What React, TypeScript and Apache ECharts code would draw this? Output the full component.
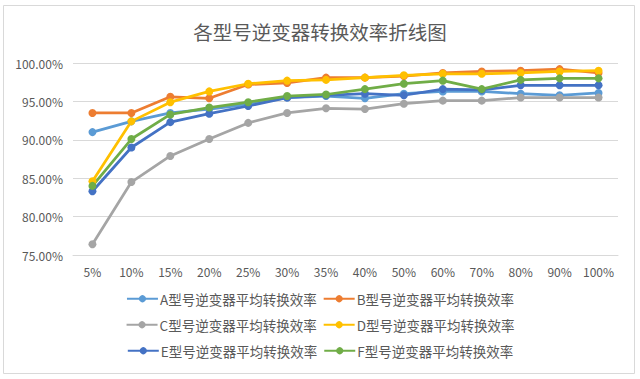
import React, { useEffect, useRef } from "react";
import * as echarts from "echarts";

const categories = ["5%", "10%", "15%", "20%", "25%", "30%", "35%", "40%", "50%", "60%", "70%", "80%", "90%", "100%"];
const seriesNames = [
  "A型号逆变器平均转换效率",
  "B型号逆变器平均转换效率",
  "C型号逆变器平均转换效率",
  "D型号逆变器平均转换效率",
  "E型号逆变器平均转换效率",
  "F型号逆变器平均转换效率",
];
const valuesA = [91.0, 92.4, 93.5, 94.0, 94.6, 95.5, 95.7, 95.4, 96.0, 96.3, 96.3, 96.0, 95.8, 96.1];
const valuesB = [93.5, 93.5, 95.6, 95.4, 97.2, 97.4, 98.1, 98.1, 98.3, 98.7, 98.9, 99.0, 99.2, 98.7];
const valuesC = [76.4, 84.5, 87.9, 90.1, 92.2, 93.5, 94.1, 94.0, 94.7, 95.1, 95.1, 95.5, 95.5, 95.5];
const valuesD = [84.6, 92.4, 94.9, 96.3, 97.3, 97.7, 97.8, 98.1, 98.4, 98.6, 98.6, 98.7, 98.9, 99.0];
const valuesE = [83.3, 89.0, 92.3, 93.4, 94.4, 95.5, 95.8, 96.0, 95.8, 96.6, 96.5, 97.1, 97.1, 97.1];
const valuesF = [84.0, 90.1, 93.3, 94.2, 94.9, 95.7, 95.9, 96.6, 97.3, 97.7, 96.6, 97.8, 98.0, 98.0];
const colors = ["#5B9BD5", "#ED7D31", "#A5A5A5", "#FFC000", "#4472C4", "#70AD47"];
const yMin = 75;
const yMax = 100;
const yInterval = 5;

const FONT = "'Noto Sans CJK SC', 'Noto Sans', sans-serif";
const TEXT_COLOR = "#595959";

export default function App() {
  const ref = useRef<HTMLDivElement>(null);
  useEffect(() => {
    if (!ref.current) return;
    const chart = echarts.init(ref.current, null, { renderer: "svg" });
    const allValues = [valuesA, valuesB, valuesC, valuesD, valuesE, valuesF];
    const legendRows = [0, 1, 2].map((r) => ({
      data: [seriesNames[r * 2], seriesNames[r * 2 + 1]],
      top: 292 + r * 26,
      left: "center",
      padding: 0,
      itemGap: 6,
      itemWidth: 31,
      itemHeight: 9,
      textStyle: { color: TEXT_COLOR, fontSize: 13.5, fontFamily: FONT, padding: [0, 0, 0, -3] },
    }));
    chart.setOption({
      animation: false,
      backgroundColor: "#ffffff",
      color: colors,
      title: {
        text: "各型号逆变器转换效率折线图",
        left: "center",
        top: 17,
        textStyle: { color: TEXT_COLOR, fontSize: 19.5, fontWeight: "normal", fontFamily: FONT },
      },
      graphic: [
        {
          type: "rect",
          shape: { x: 3.5, y: 5.5, width: 631, height: 368 },
          style: { fill: "none", stroke: "#D9D9D9", lineWidth: 1 },
          silent: true,
        },
      ],
      legend: legendRows,
      grid: { left: 73, right: 22, top: 63, bottom: 124, containLabel: false },
      xAxis: {
        type: "category",
        data: categories,
        boundaryGap: true,
        axisLine: { show: true, lineStyle: { color: "#D9D9D9" } },
        axisTick: { show: false },
        axisLabel: { color: TEXT_COLOR, fontSize: 12, fontFamily: FONT, margin: 10, interval: 0 },
      },
      yAxis: {
        type: "value",
        min: yMin,
        max: yMax,
        interval: yInterval,
        axisLine: { show: false },
        axisTick: { show: false },
        splitLine: { lineStyle: { color: "#D9D9D9", width: 1 } },
        axisLabel: {
          color: TEXT_COLOR,
          fontSize: 12,
          fontFamily: FONT,
          margin: 10,
          formatter: (v: number) => v.toFixed(2) + "%",
        },
      },
      series: seriesNames.map((name, i) => ({
        name,
        type: "line",
        data: allValues[i],
        symbol: "circle",
        symbolSize: 8,
        lineStyle: { width: 2.75, color: colors[i] },
        itemStyle: { color: colors[i] },
      })),
    });
    return () => chart.dispose();
  }, []);
  return (
    <div
      ref={ref}
      style={{ position: "fixed", left: 0, top: 0, width: 640, height: 379 }}
    />
  );
}
